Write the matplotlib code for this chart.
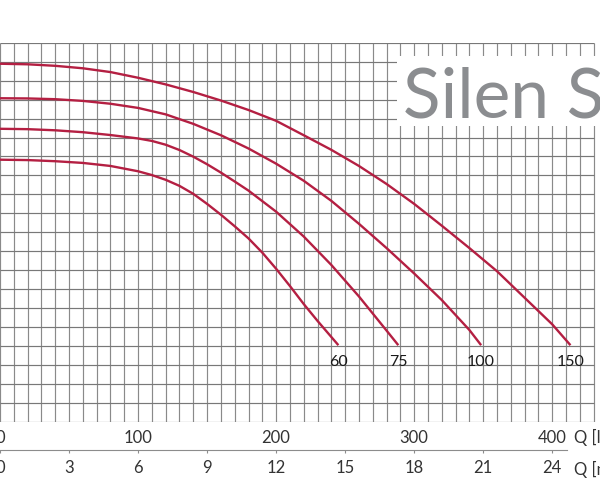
import matplotlib
matplotlib.use("Agg")
import matplotlib.pyplot as plt
from matplotlib.patches import Rectangle

plt.rcParams['font.family'] = ['Lato', 'DejaVu Sans']

# pump curves, Q in l/min, H in m (one grid row = 1 m)
q_60 = [0, 20, 40, 60, 80, 100, 110, 120, 130, 140, 150, 160, 170, 180, 190, 200, 210, 220, 230, 245.1]
h_60 = [13.83, 13.81, 13.75, 13.66, 13.50, 13.22, 13.02, 12.77, 12.45, 12.03, 11.50, 10.93, 10.32, 9.68,
        8.93, 8.08, 7.17, 6.22, 5.33, 4.05]

q_75 = [0, 20, 40, 60, 80, 100, 110, 120, 130, 140, 150, 160, 170, 180, 200, 220, 240, 260, 280, 288.5]
h_75 = [15.46, 15.44, 15.38, 15.28, 15.13, 14.95, 14.82, 14.62, 14.34, 13.99, 13.59, 13.15, 12.68, 12.20,
        11.09, 9.78, 8.28, 6.62, 4.82, 4.05]

q_100 = [0, 20, 40, 60, 80, 100, 120, 140, 160, 180, 200, 220, 240, 260, 280, 300, 320, 340, 348.5]
h_100 = [17.07, 17.06, 17.02, 16.93, 16.78, 16.56, 16.22, 15.72, 15.12, 14.42, 13.62, 12.72, 11.66, 10.45,
         9.17, 7.83, 6.43, 4.85, 4.05]

q_150 = [0, 20, 40, 60, 80, 100, 120, 140, 160, 180, 200, 220, 240, 260, 280, 300, 320, 340, 360, 380, 400, 413.2]
h_150 = [18.89, 18.86, 18.78, 18.65, 18.45, 18.15, 17.80, 17.40, 16.95, 16.45, 15.88, 15.12, 14.35, 13.50,
         12.55, 11.50, 10.35, 9.17, 7.95, 6.55, 5.15, 4.05]

curves = [("60", q_60, h_60), ("75", q_75, h_75), ("100", q_100, h_100), ("150", q_150, h_150)]

lmin_ticks = [0, 100, 200, 300, 400]
m3h_ticks = [0, 3, 6, 9, 12, 15, 18, 21, 24]

red = '#b41f42'
grid_col = '#8a8a8a'

fig = plt.figure(figsize=(6, 4.87), dpi=100)
ax = fig.add_axes([0, 0.13347, 1, 0.7789])
ax.set_xlim(0.72, 434.6)
ax.set_ylim(0, 20)

# grid drawn by hand so it stops at 430 l/min
ax.vlines(range(0, 431, 10), 0, 20, color=grid_col, lw=0.85, zorder=1)
ax.hlines(range(0, 21), 0, 430, color='#787878', lw=0.85, zorder=1)

for name, q, h in curves:
    ax.plot(q, h, color=red, lw=1.7, zorder=3, solid_capstyle='butt', solid_joinstyle='round')
    ax.annotate(name, (q[-1], h[-1]), xytext=(0, -12), textcoords='offset points',
                ha='center', va='center', fontsize=11.5, color='#1a1a1a')

# title box
ax.add_patch(Rectangle((287.8, 15.63), 160, 3.69, facecolor='white', edgecolor='none', zorder=2))
ax.text(292.1, 16.05, "Silen S", fontsize=50, color='#8b8d90', va='baseline', ha='left', zorder=4)

for s in ax.spines.values():
    s.set_visible(False)
ax.set_yticks([])
ax.set_xticks(lmin_ticks)
ax.tick_params(axis='x', length=0, pad=6, labelsize=12, labelcolor='#333333')

# second scale in m3/h
ax2 = fig.add_axes([0, 0.07598, 1, 0.0001])
ax2.set_xlim(0.72 / 16.667, 434.6 / 16.667)
for k in ['top', 'left', 'right']:
    ax2.spines[k].set_visible(False)
ax2.spines['bottom'].set_color('#8c8c8c')
ax2.spines['bottom'].set_linewidth(0.8)
ax2.spines['bottom'].set_bounds(0, 24.65)
ax2.set_yticks([])
ax2.set_xticks(m3h_ticks)
ax2.tick_params(axis='x', length=2.5, width=0.8, color='#8c8c8c', pad=5, labelsize=12, labelcolor='#333333')
ax2.patch.set_visible(False)

fig.text(574 / 600, 1 - 437 / 487, "Q [l/min]", fontsize=12, color='#333333', ha='left', va='center')
fig.text(574 / 600, 1 - 469 / 487, "Q [m³/h]", fontsize=12, color='#333333', ha='left', va='center')

fig.savefig("out.png", dpi=100)
